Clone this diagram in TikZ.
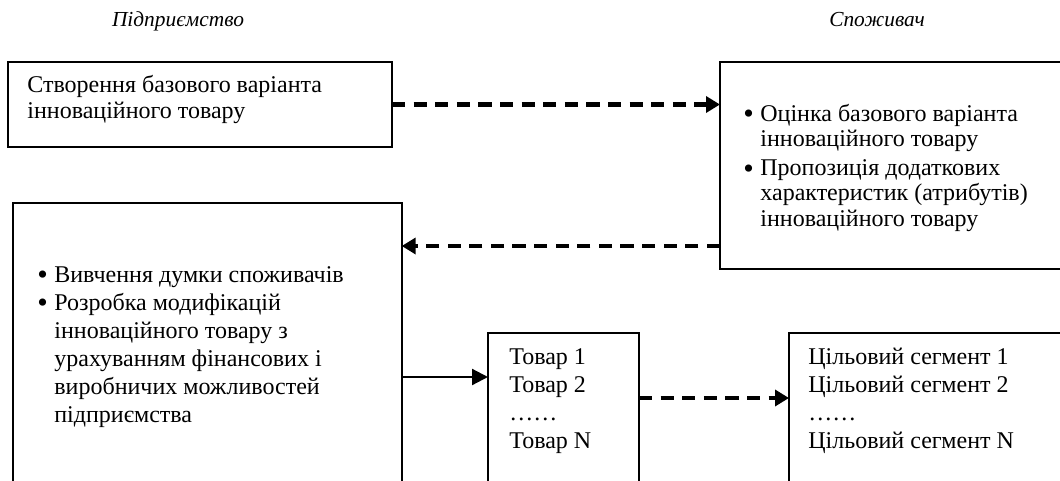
\documentclass[tikz,border=0pt]{standalone}
\usepackage{fontspec}
\usepackage{graphicx}
\setmainfont{Liberation Serif}
\usetikzlibrary{arrows.meta}
\newcommand\mybul{\makebox[8.5pt][l]{\raisebox{-1.4pt}{\scalebox{1.25}{•}}}}
\newcommand\myind{\hspace*{8.5pt}}
\begin{document}
\begin{tikzpicture}[x=0.5pt,y=-0.5pt,
  boxnode/.style={draw, line width=1pt, rectangle, inner sep=0pt, outer sep=0pt},
  txt/.style={anchor=base west, inner sep=0pt, font=\fontsize{12pt}{12.8pt}\selectfont},
  txtwide/.style={anchor=base west, inner sep=0pt, font=\fontsize{12pt}{14pt}\selectfont},
  ttl/.style={anchor=base, inner sep=0pt, font=\fontsize{10.7pt}{12pt}\selectfont\itshape},
  dasharrow/.style={line width=2.2pt, dash pattern=on 6.6pt off 4.2pt, -{Triangle[length=7pt,width=8pt]}},
  solidarrow/.style={line width=1.1pt, -{Triangle[length=8pt,width=8pt]}}
]
\useasboundingbox (0,0) rectangle (1060,481);
\clip (0,0) rectangle (1060,481);
% titles
\node[ttl] (h1) at (178,27) {Підприємство};
\node[ttl] (h2) at (877,27) {Споживач};
% boxes
\node[boxnode, minimum width=192pt, minimum height=42.5pt] (b1) at (200,104.5) {};
\node[boxnode, minimum width=177.5pt, minimum height=103.5pt] (b2) at (897.5,165.5) {};
\node[boxnode, minimum width=194.35pt, minimum height=143.5pt] (b3) at (207.35,346.5) {};
\node[boxnode, minimum width=75.5pt, minimum height=78.5pt] (b4) at (563.5,411.5) {};
\node[boxnode, minimum width=143pt, minimum height=78.5pt] (b5) at (932,411.5) {};
% texts
\node[txt] (t1) at (27,93) {\vtop{\hbox{Створення базового варіанта}\hbox{інноваційного товару}}};
\node[txt] (t2) at (743,121) {\vtop{\hbox{\mybul Оцінка базового варіанта}\hbox{\myind інноваційного товару}\vskip1.5pt\hbox{\mybul Пропозиція додаткових}\hbox{\myind характеристик (атрибутів)}\hbox{\myind інноваційного товару}}};
\node[txtwide] (t3) at (37,282) {\vtop{\hbox{\mybul Вивчення думки споживачів}\hbox{\mybul Розробка модифікацій}\hbox{\myind інноваційного товару з}\hbox{\myind урахуванням фінансових і}\hbox{\myind виробничих можливостей}\hbox{\myind підприємства}}};
\node[txtwide] (t4) at (509,364) {\vtop{\hbox{Товар 1}\hbox{Товар 2}\hbox{……}\hbox{Товар N}}};
\node[txtwide] (t5) at (808,364) {\vtop{\hbox{Цільовий сегмент 1}\hbox{Цільовий сегмент 2}\hbox{……}\hbox{Цільовий сегмент N}}};
% connectors
\coordinate (r) at (0,246);
\coordinate (s) at (0,377);
\coordinate (d) at (0,398);
\draw[dasharrow] (b1.east) -- (b1.east -| b2.west);
\draw[dasharrow] (b2.west |- r) -- (b3.east |- r);
\draw[solidarrow] (b3.east |- s) -- (b4.west |- s);
\draw[dasharrow] (b4.east |- d) -- (b5.west |- d);
\end{tikzpicture}
\end{document}
